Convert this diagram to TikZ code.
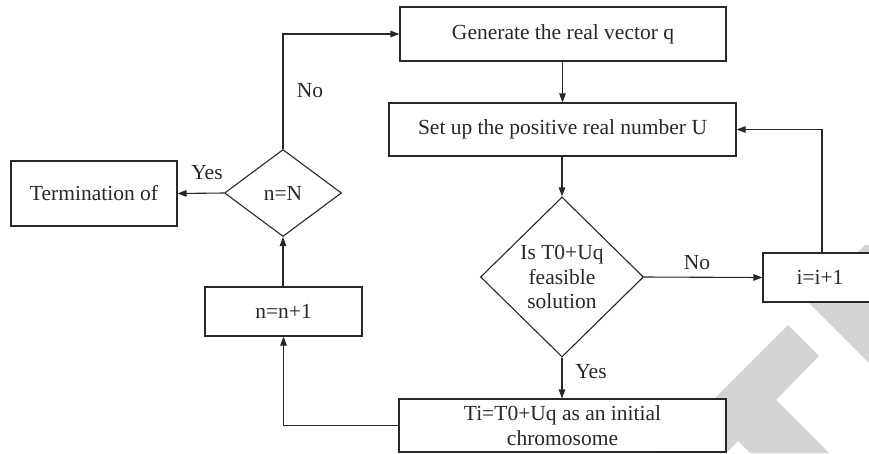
\documentclass[tikz,border=0pt]{standalone}
\usepackage{fontspec}
\setmainfont{Liberation Serif}
\usetikzlibrary{arrows.meta,shapes.geometric}
\definecolor{wm}{RGB}{212,212,212}
\definecolor{ln}{RGB}{40,40,40}
\begin{document}
\begin{tikzpicture}[x=1pt,y=-1pt,
  every node/.style={font=\fontsize{21.5}{24.5}\selectfont, text=ln, inner sep=0pt},
  boxnode/.style={draw=ln, line width=1.1pt, fill=white, align=center},
  decision/.style={diamond, draw=ln, line width=1.1pt, fill=white, inner sep=0pt, aspect=1},
  arr/.style={draw=ln, line width=1.1pt, -{Triangle[length=9pt,width=6.5pt]}},
  plain/.style={draw=ln, line width=1.1pt}]
\clip (0,0) rectangle (869,453);
\fill[white] (0,0) rectangle (869,453);
% watermark
\fill[wm] (788,325) -- (819,356) -- (776,400) -- (829,453) -- (750,453) -- (738,441) -- (726,453) -- (660,453) -- cycle;
\fill[wm] (808,302) -- (865,245) -- (869,245) -- (869,363) -- cycle;
% nodes
\node[boxnode, minimum width=326pt, minimum height=54pt] (gen) at (563,34) {Generate the real vector q};
\node[boxnode, minimum width=347pt, minimum height=53pt] (setup) at (562.5,129.5) {Set up the positive real number U};
\node[decision, minimum width=163pt, minimum height=160pt] (feas) at (562,277) {};
\node[align=center] (feast) at (feas.center) {Is T0+Uq\\feasible\\solution};
\node[boxnode, minimum width=114pt, minimum height=49pt] (iinc) at (820,277.5) {i=i+1};
\node[boxnode, minimum width=327pt, minimum height=53pt] (ti) at (562.5,425.5) {Ti=T0+Uq as an initial\\chromosome};
\node[boxnode, minimum width=157pt, minimum height=49pt] (ninc) at (283.5,311.5) {n=n+1};
\node[decision, minimum width=117pt, minimum height=87pt] (nN) at (283,193) {};
\node (nNt) at (nN.center) {n=N};
\node[boxnode, minimum width=166pt, minimum height=65pt] (term) at (94,193.5) {Termination of};
% connectors
\draw[arr] (gen.south -| setup.north) -- (setup.north);
\draw[arr] (setup.south -| feas.north) -- (feas.north);
\draw[arr] (feas.east) -- (iinc.west);
\draw[arr] (feas.south) -- (feas.south |- ti.north);
\draw[arr] ([xshift=2pt]iinc.north) |- (setup.east);
\draw[arr] (ti.west) -| (ninc.south);
\draw[arr] (ninc.north -| nN.south) -- (nN.south);
\draw[arr] (nN.west) -- (term.east);
\draw[arr] (nN.north) |- (gen.west);
% labels
\node (lno1) at (310,91) {No};
\node (lyes1) at (207,173) {Yes};
\node (lno2) at (697,263) {No};
\node (lyes2) at (591,372) {Yes};
\end{tikzpicture}
\end{document}
